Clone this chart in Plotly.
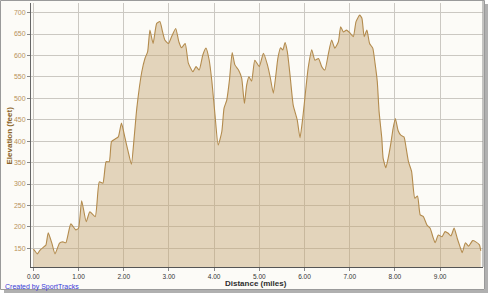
import plotly.graph_objects as go

# Distance (miles) and elevation (feet)
distance = [0.00, 0.02, 0.09, 0.15, 0.24, 0.28, 0.33, 0.41, 0.48, 0.58, 0.65, 0.72, 0.83, 0.94,
            1.00, 1.07, 1.17, 1.25, 1.37, 1.46, 1.54, 1.61, 1.68, 1.73, 1.81, 1.88, 1.95,
            2.03, 2.10, 2.17, 2.23, 2.29, 2.40, 2.47, 2.53, 2.58, 2.65, 2.73, 2.80, 2.86, 2.91, 2.99,
            3.06, 3.15, 3.22, 3.28, 3.36, 3.43, 3.53, 3.60, 3.67, 3.75, 3.82, 3.89, 3.95,
            4.02, 4.09, 4.17, 4.22, 4.28, 4.34, 4.40, 4.46, 4.54, 4.61, 4.67, 4.72, 4.77, 4.83, 4.90,
            5.00, 5.09, 5.18, 5.24, 5.31, 5.37, 5.41, 5.47, 5.52, 5.57, 5.62, 5.68, 5.75, 5.84, 5.90, 5.96,
            6.03, 6.08, 6.16, 6.23, 6.31, 6.38, 6.45, 6.53, 6.60, 6.67, 6.75, 6.80, 6.86, 6.93,
            7.01, 7.08, 7.14, 7.22, 7.27, 7.32, 7.38, 7.44, 7.51, 7.56, 7.61, 7.65, 7.71, 7.74, 7.80, 7.85,
            7.91, 7.96, 8.01, 8.07, 8.13, 8.20, 8.25, 8.30, 8.37, 8.44, 8.50, 8.56, 8.63, 8.71, 8.78, 8.84,
            8.89, 8.96, 9.04, 9.11, 9.18, 9.24, 9.31, 9.38, 9.44, 9.49, 9.56, 9.63, 9.72, 9.79, 9.87, 9.90]
elevation = [148, 146, 137, 146, 154, 158, 186, 162, 137, 162, 165, 163, 207, 193,
             197, 261, 212, 235, 224, 305, 302, 352, 352, 399, 405, 410, 442,
             407, 375, 346, 407, 477, 562, 593, 609, 659, 628, 675, 679, 655, 636, 628,
             644, 663, 632, 618, 628, 582, 562, 574, 566, 601, 617, 590, 540,
             461, 391, 422, 477, 496, 543, 607, 578, 566, 547, 488, 531, 550, 540, 589,
             574, 605, 578, 550, 512, 558, 593, 618, 613, 630, 609, 554, 484, 449, 408, 453,
             523, 570, 613, 589, 593, 574, 566, 605, 636, 617, 632, 667, 655, 659,
             652, 644, 679, 694, 687, 644, 659, 628, 617, 582, 539, 469, 407, 360, 338, 360,
             395, 430, 453, 425, 414, 410, 383, 352, 329, 267, 272, 228, 224, 204, 197, 177,
             163, 181, 177, 189, 185, 179, 197, 173, 154, 140, 163, 155, 168, 165, 158, 144]

x_ticks = [0, 1, 2, 3, 4, 5, 6, 7, 8, 9]
x_tick_labels = ["0.00", "1.00", "2.00", "3.00", "4.00", "5.00", "6.00", "7.00", "8.00", "9.00"]
y_ticks = [150, 200, 250, 300, 350, 400, 450, 500, 550, 600, 650, 700]

W, H = 489, 295
L, R, T, B = 31, 6, 3, 28
PW, PH = W - L - R, H - T - B


def px(X):
    return (X - L) / PW


def py(Y):
    return (H - B - Y) / PH


fig = go.Figure()
fig.add_trace(go.Scatter(
    x=distance, y=elevation, mode="lines", fill="tozeroy",
    line=dict(color="#B38B4D", width=1.1, shape="spline", smoothing=0.5),
    fillcolor="rgba(197,163,112,0.45)",
    hoverinfo="skip", showlegend=False,
))

font = "Liberation Sans, Arial, sans-serif"
shapes = [
    # frame background
    dict(type="rect", xref="paper", yref="paper", x0=px(0.5), x1=px(484.5), y0=py(0.5), y1=py(289.5),
         line=dict(color="#9A9A9A", width=1), fillcolor="#FCFBF7", layer="below"),
    # drop shadow
    dict(type="rect", xref="paper", yref="paper", x0=px(485), x1=px(488), y0=py(4), y1=py(293),
         line=dict(width=0), fillcolor="#B0B0B0", layer="below"),
    dict(type="rect", xref="paper", yref="paper", x0=px(4), x1=px(488), y0=py(290), y1=py(293),
         line=dict(width=0), fillcolor="#B0B0B0", layer="below"),
    # right plot edge
    dict(type="line", xref="paper", yref="paper", x0=1, x1=1, y0=0, y1=py(1),
         line=dict(color="#8C8C8C", width=1)),
]

annotations = [
    dict(text="<b>Elevation (feet)</b>", xref="paper", yref="paper", x=px(8.5), y=py(136),
         xanchor="center", yanchor="middle", textangle=-90, showarrow=False,
         font=dict(family=font, size=8, color="#8A6326")),
    dict(text="<b>Distance (miles)</b>", xref="paper", yref="paper", x=px(256), y=py(283),
         xanchor="center", yanchor="middle", showarrow=False,
         font=dict(family=font, size=8, color="#2E2E2E")),
    dict(text="Created by SportTracks", xref="paper", yref="paper", x=px(2.5), y=py(287),
         xanchor="left", yanchor="middle", showarrow=False,
         font=dict(family=font, size=7, color="#3A3AD8")),
]

fig.update_layout(
    width=W, height=H,
    margin=dict(l=L, r=R, t=T, b=B, pad=0),
    paper_bgcolor="#FFFFFF",
    plot_bgcolor="#FDFCF8",
    shapes=shapes,
    annotations=annotations,
    xaxis=dict(
        range=[-0.051, 9.949], tickvals=x_ticks, ticktext=x_tick_labels,
        showgrid=True, gridcolor="#CBC8C2", gridwidth=1, zeroline=False,
        showline=True, linecolor="#555555", linewidth=1,
        ticks="outside", ticklen=3, tickcolor="#888888",
        tickfont=dict(family=font, size=6.5, color="#333333"),
        fixedrange=True,
    ),
    yaxis=dict(
        range=[106.4, 722.4], tickvals=y_ticks,
        showgrid=True, gridcolor="#CBC8C2", gridwidth=1, zeroline=False,
        showline=True, linecolor="#666666", linewidth=1,
        ticks="outside", ticklen=3, tickcolor="#888888",
        tickfont=dict(family=font, size=7, color="#B8925A"),
        fixedrange=True,
    ),
)

fig.write_html("out.html")
